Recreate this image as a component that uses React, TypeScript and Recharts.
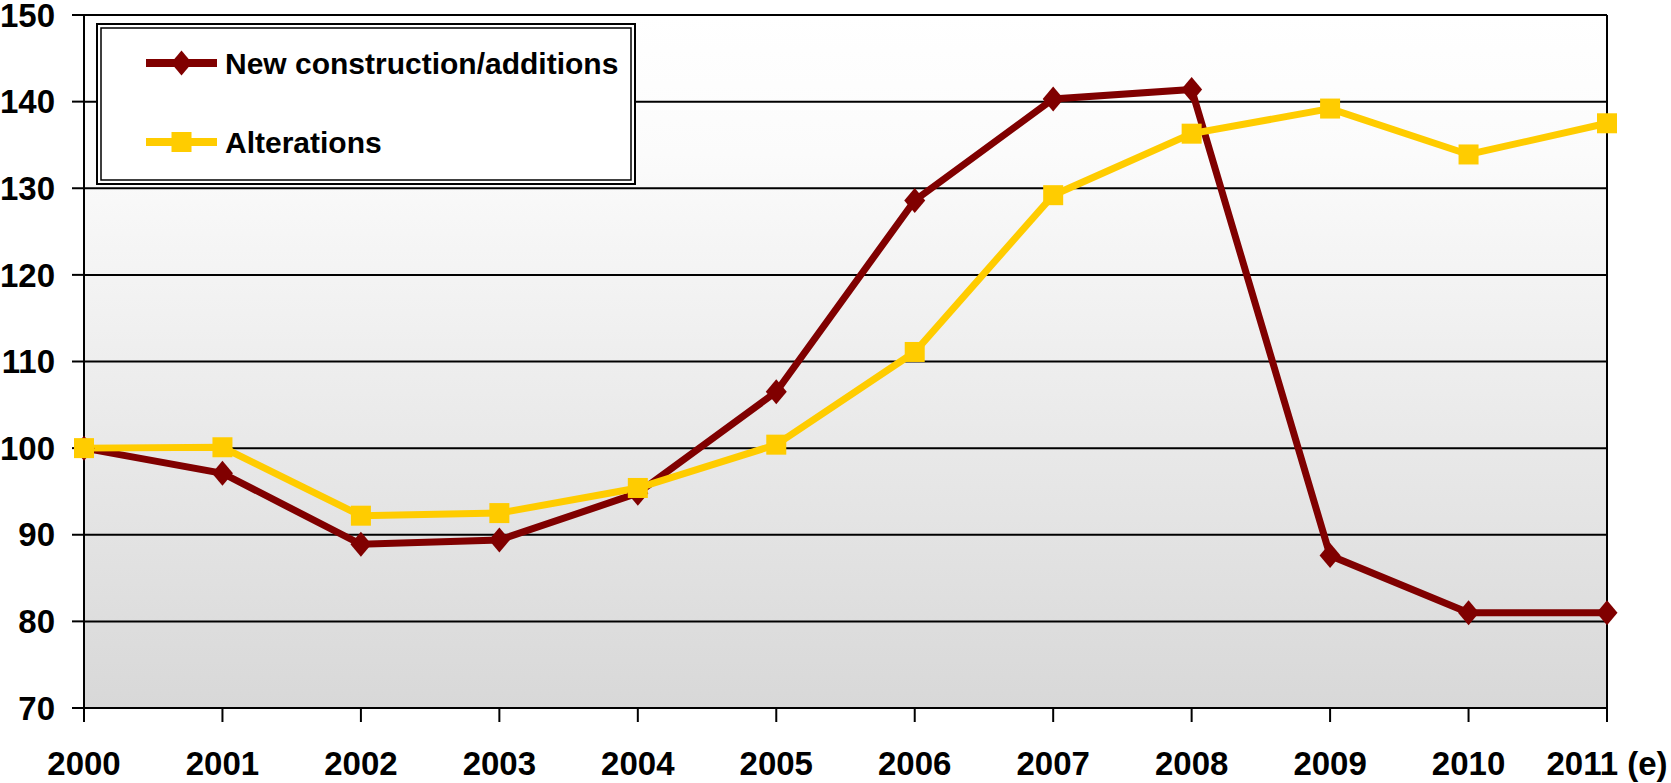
import React from "react";
import {
  CartesianGrid,
  Legend,
  Line,
  LineChart,
  ReferenceLine,
  XAxis,
  YAxis,
} from "recharts";

const years = [
  "2000", "2001", "2002", "2003", "2004", "2005",
  "2006", "2007", "2008", "2009", "2010", "2011 (e)",
];
const newConstruction = [
  100, 97.1, 88.9, 89.4, 94.8, 106.5, 128.6, 140.3, 141.4, 87.6, 81.0, 81.0,
];
const alterations = [
  100, 100.1, 92.2, 92.5, 95.4, 100.4, 111.1, 129.2, 136.3, 139.2, 133.9, 137.5,
];
const yTicks = [70, 80, 90, 100, 110, 120, 130, 140, 150];

const seriesNames = {
  newConstruction: "New construction/additions",
  alterations: "Alterations",
};
const legendOrder = ["newConstruction", "alterations"];

const DARK_RED = "#800000";
const GOLD = "#ffcc00";
const FONT = "'Liberation Sans', Arial, sans-serif";

const data = years.map((year, i) => ({
  year,
  newConstruction: newConstruction[i],
  alterations: alterations[i],
}));

const Diamond = ({ cx, cy, fill }: { cx?: number; cy?: number; fill: string }) => {
  if (cx == null || cy == null) return null;
  const w = 10.5;
  const h = 12.5;
  return (
    <polygon
      points={`${cx},${cy - h} ${cx + w},${cy} ${cx},${cy + h} ${cx - w},${cy}`}
      fill={fill}
    />
  );
};

const Square = ({ cx, cy, fill }: { cx?: number; cy?: number; fill: string }) => {
  if (cx == null || cy == null) return null;
  return <rect x={cx - 10} y={cy - 10} width={20} height={20} fill={fill} />;
};

const LegendBox = ({ payload }: { payload?: any[] }) => {
  const items = [...(payload ?? [])].sort(
    (a, b) => legendOrder.indexOf(a.dataKey) - legendOrder.indexOf(b.dataKey),
  );
  return (
    <svg width={540} height={162} style={{ display: "block" }}>
      <rect x={1} y={1} width={538} height={160} fill="#fff" stroke="#000" strokeWidth={2} />
      <rect x={5} y={5} width={530} height={152} fill="none" stroke="#000" strokeWidth={1.5} />
      {items.map((item, i) => {
        const y = 40 + i * 79;
        const isDiamond = item.dataKey === "newConstruction";
        return (
          <g key={item.value}>
            <line x1={50} x2={121} y1={y} y2={y} stroke={item.color} strokeWidth={8} />
            {isDiamond ? (
              <Diamond cx={85.5} cy={y} fill={item.color} />
            ) : (
              <Square cx={85.5} cy={y} fill={item.color} />
            )}
            <text
              x={129}
              y={y}
              dy="0.355em"
              fontFamily={FONT}
              fontWeight="bold"
              fontSize={30}
              fill="#000"
            >
              {item.value}
            </text>
          </g>
        );
      })}
    </svg>
  );
};

export default function App() {
  const tickStyle = {
    fill: "#000",
    fontSize: 33,
    fontWeight: "bold",
    fontFamily: FONT,
  };

  return (
    <div style={{ position: "absolute", left: 0, top: 0, width: 1671, height: 783, background: "#fff" }}>
      <LineChart
        width={1671}
        height={783}
        data={data}
        margin={{ top: 15, right: 64, bottom: 0, left: 0 }}
      >
        <defs>
          <linearGradient id="plotBg" x1="0" y1="0" x2="0" y2="1">
            <stop offset="0%" stopColor="#ffffff" />
            <stop offset="20%" stopColor="#fbfbfb" />
            <stop offset="100%" stopColor="#d8d8d8" />
          </linearGradient>
        </defs>
        <CartesianGrid
          vertical={false}
          stroke="#000"
          strokeWidth={2}
          fill="url(#plotBg)"
          fillOpacity={1}
        />
        <XAxis
          dataKey="year"
          height={75}
          interval={0}
          axisLine={{ stroke: "#000", strokeWidth: 2 }}
          tickLine={{ stroke: "#000", strokeWidth: 2 }}
          tickSize={14}
          tickMargin={30}
          tick={tickStyle}
        />
        <YAxis
          domain={[70, 150]}
          ticks={yTicks}
          width={84}
          interval={0}
          axisLine={{ stroke: "#000", strokeWidth: 2 }}
          tickLine={{ stroke: "#000", strokeWidth: 2 }}
          tickSize={12}
          tickMargin={17}
          tick={tickStyle}
        />
        <ReferenceLine x="2011 (e)" stroke="#000" strokeWidth={2} />
        <Legend
          layout="horizontal"
          align="center"
          verticalAlign="middle"
          wrapperStyle={{ left: 96, top: 23, width: 540, height: 162 }}
          content={(props: any) => <LegendBox payload={props.payload} />}
        />
        <Line
          dataKey="newConstruction"
          name={seriesNames.newConstruction}
          stroke={DARK_RED}
          strokeWidth={7}
          dot={(p: any) => <Diamond key={`n-${p.index}`} cx={p.cx} cy={p.cy} fill={DARK_RED} />}
          activeDot={false}
          isAnimationActive={false}
        />
        <Line
          dataKey="alterations"
          name={seriesNames.alterations}
          stroke={GOLD}
          strokeWidth={7}
          dot={(p: any) => <Square key={`a-${p.index}`} cx={p.cx} cy={p.cy} fill={GOLD} />}
          activeDot={false}
          isAnimationActive={false}
        />
      </LineChart>
    </div>
  );
}
